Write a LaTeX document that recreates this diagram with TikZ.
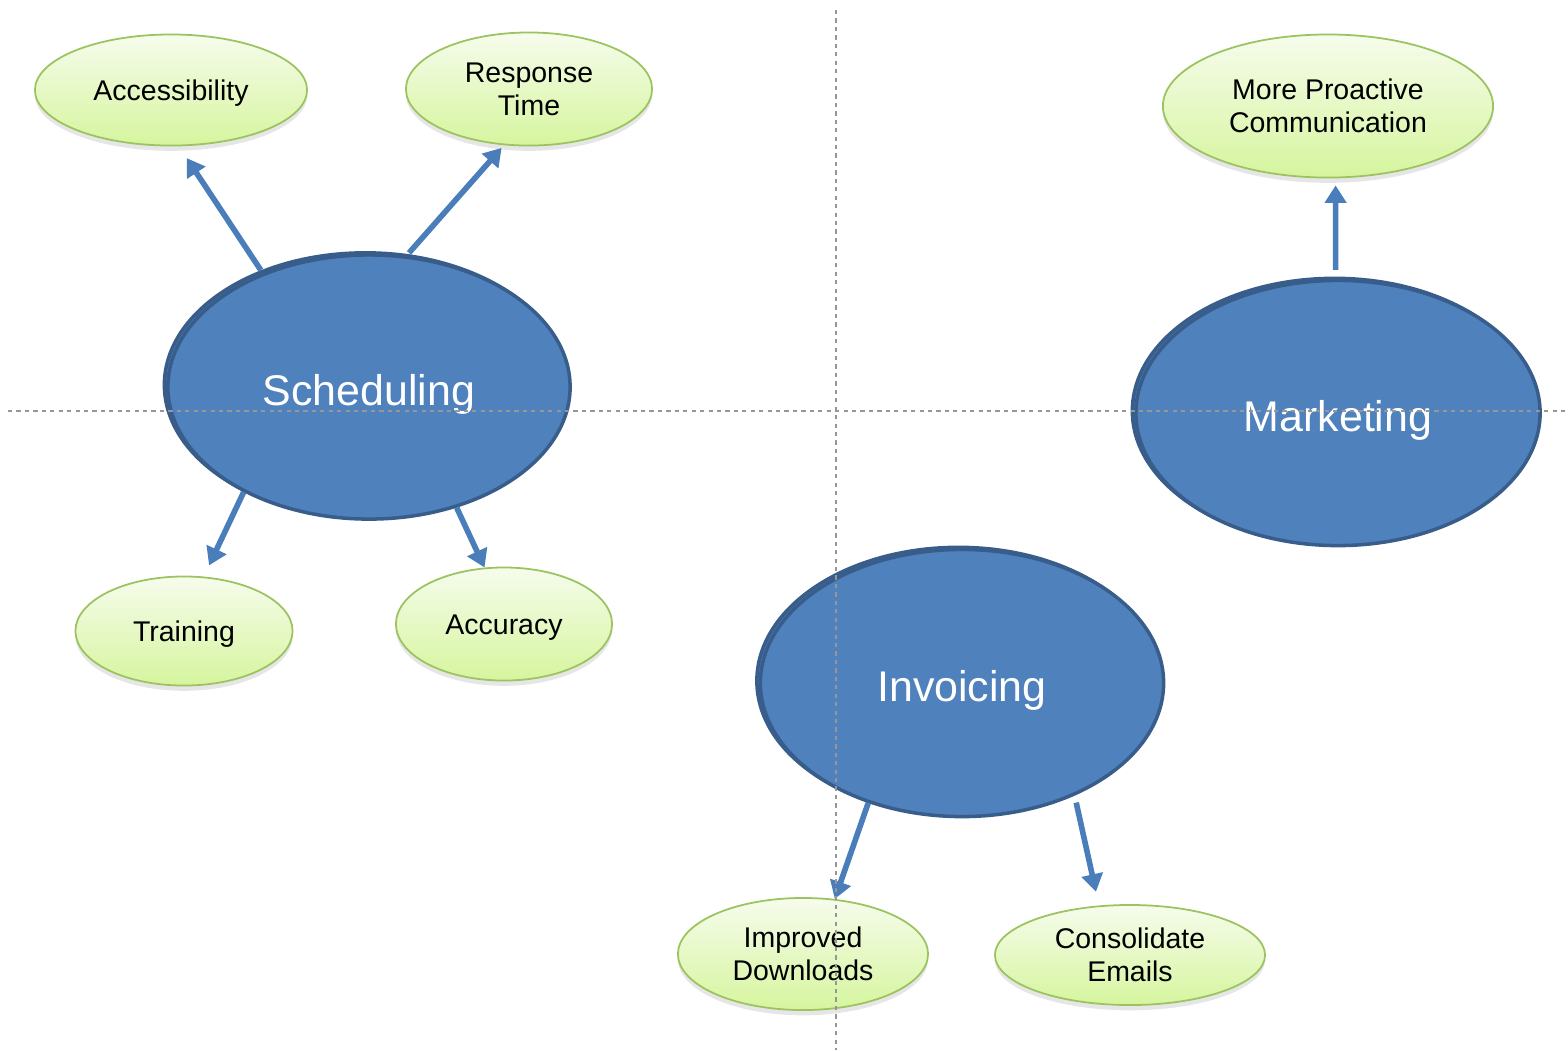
\documentclass[tikz,border=0pt]{standalone}
\usepackage{fontspec}
\setmainfont{Liberation Sans}
\usepackage{xcolor}
\usetikzlibrary{shapes.geometric,arrows.meta,shadows}
\definecolor{topicblue}{RGB}{79,129,189}
\definecolor{topicedge}{RGB}{56,93,138}
\definecolor{leaftop}{RGB}{246,252,236}
\definecolor{leafbottom}{RGB}{214,245,158}
\definecolor{leafedge}{RGB}{155,195,95}
\definecolor{linkblue}{RGB}{74,126,187}
\definecolor{axisgray}{RGB}{150,150,150}

\begin{document}
\begin{tikzpicture}[x=0.01cm, y=-0.01cm,
    topic/.style={ellipse, draw=topicedge, line width=1pt, fill=topicblue, text=white, inner sep=0pt,
        minimum width=4.02cm, minimum height=2.64cm, font=\fontsize{12.2}{14}\selectfont,
        text height=12pt, text depth=1.5pt,
        preaction={draw=topicedge, fill=topicblue, line width=1pt, transform canvas={shift={(-1pt,0.6pt)}}}},
    idea/.style={ellipse, draw=leafedge, line width=0.5pt, top color=leaftop, bottom color=leafbottom,
        inner sep=0pt, align=center, font=\fontsize{8.1}{9.4}\selectfont,
        drop shadow={shadow xshift=0pt, shadow yshift=-1.5pt, opacity=0.2}},
    oneline/.style={text height=7.3pt, text depth=1.3pt},
    link/.style={-{Triangle[length=5pt,width=6pt]}, draw=linkblue, line width=1.6pt},
    axis/.style={draw=axisgray, dash pattern=on 1.2pt off 1.2pt, line width=0.4pt}]
    \useasboundingbox (0,0) rectangle (1568,1050);
    \node[topic] (sched) at (369,387) {Scheduling};
    \node[topic, minimum width=4.04cm, minimum height=2.65cm] (mkt) at (1338,413) {Marketing};
    \node[topic, minimum width=4.03cm, minimum height=2.67cm] (inv) at (962,683) {Invoicing};
    \node[idea, oneline, minimum width=2.72cm, minimum height=1.11cm] (access) at (171,90) {Accessibility};
    \node[idea, minimum width=2.46cm, minimum height=1.13cm] (resp) at (529,89) {Response\\Time};
    \node[idea, minimum width=3.3cm, minimum height=1.43cm] (proact) at (1328,106) {More Proactive\\Communication};
    \node[idea, oneline, minimum width=2.17cm, minimum height=1.09cm] (train) at (184,631) {Training};
    \node[idea, oneline, minimum width=2.16cm, minimum height=1.13cm] (accur) at (504,624) {Accuracy};
    \node[idea, minimum width=2.5cm, minimum height=1.12cm] (downl) at (803,954) {Improved\\Downloads};
    \node[idea, minimum width=2.7cm, minimum height=1.0cm] (emails) at (1130,955) {Consolidate\\Emails};
    \draw[link, shorten <=1pt, shorten >=4pt] (sched.133) -- (access.-82);
    \draw[link, shorten <=1pt, shorten >=1pt] (sched.74) -- (resp.-114);
    \draw[link, shorten >=3.5pt] (sched.-140) -- (train.70);
    \draw[link] (sched.-54) -- (accur.109);
    \draw[link, shorten <=2.5pt, shorten >=2pt] (mkt.91) -- (proact.-84);
    \draw[link] (inv.-128) -- (downl.60);
    \draw[link, shorten <=2pt, shorten >=4pt] (inv.-45) -- (emails.122);
    \coordinate (vtop) at (836,10);
    \coordinate (vbot) at (836,1050);
    \coordinate (hleft) at (8,411);
    \coordinate (hright) at (1568,411);
    \draw[axis] (vtop) -- (vbot);
    \draw[axis] (hleft) -- (hright);
\end{tikzpicture}
\end{document}
